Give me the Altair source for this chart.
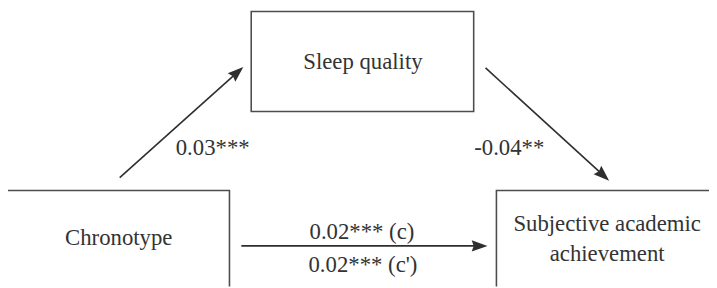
import altair as alt
import pandas as pd
import numpy as np

# Node boxes (diagram coordinates, pixels of the 717x288 canvas)
box_names = ["Sleep quality", "Chronotype", "Subjective academic achievement"]
box_x1 = [254, 7, 502]
box_x2 = [479, 232, 730]
box_y1 = [10, 191, 191]
box_y2 = [111, 300, 300]

# Node label lines
node_text = ["Sleep quality", "Chronotype", "Subjective academic", "achievement"]
node_tx = [367, 120, 614, 614]
node_ty = [61, 239, 225, 255]

# Paths (arrows): start -> tip
path_names = ["a", "b", "c"]
arr_x1 = [121, 491, 244]
arr_y1 = [178, 67, 247]
arr_x2 = [246, 616, 493]
arr_y2 = [66, 181, 247]

# Coefficient labels
coef_text = ["0.03***", "-0.04**", "0.02*** (c)", "0.02*** (c')"]
coef_tx = [215, 515, 366, 367]
coef_ty = [148, 148, 233, 266]

HEAD = 16  # arrowhead length in px

boxes = pd.DataFrame({"name": box_names, "x1": box_x1, "x2": box_x2, "y1": box_y1, "y2": box_y2})
labels = pd.DataFrame({"t": node_text + coef_text, "x": node_tx + coef_tx, "y": node_ty + coef_ty})

arr = pd.DataFrame({"p": path_names, "x1": arr_x1, "y1": arr_y1, "x2": arr_x2, "y2": arr_y2})
dx = arr["x2"] - arr["x1"]
dy = arr["y2"] - arr["y1"]
ln = np.hypot(dx, dy)
arr["lx2"] = (arr["x2"] - dx / ln * (HEAD - 4)).astype(float)
arr["ly2"] = (arr["y2"] - dy / ln * (HEAD - 4)).astype(float)
arr["angle"] = ((np.degrees(np.arctan2(dx, -dy)) + 360) % 360).astype(float)

xs = alt.Scale(domain=[8, 717], nice=False, zero=False)
ys = alt.Scale(domain=[8, 288], nice=False, zero=False, reverse=True)

LINE = "#2e2e2e"
BOX = "#4d4d4d"
TXT = "#333333"
FONT = "Liberation Serif, Tinos, Times New Roman, DejaVu Serif, serif"

rects = alt.Chart(boxes).mark_rect(fill="white", stroke=BOX, strokeWidth=1.6, clip=True).encode(
    x=alt.X("x1:Q", scale=xs, axis=None),
    x2="x2:Q",
    y=alt.Y("y1:Q", scale=ys, axis=None),
    y2="y2:Q",
)

lines = alt.Chart(arr).mark_rule(color=LINE, strokeWidth=1.6).encode(
    x=alt.X("x1:Q", scale=xs, axis=None),
    y=alt.Y("y1:Q", scale=ys, axis=None),
    x2="lx2:Q",
    y2="ly2:Q",
)

heads = alt.Chart(arr).mark_point(
    shape="M0,0 L0.72,2 L0,1.75 L-0.72,2 Z",
    size=HEAD * HEAD,
    filled=True,
    color=LINE,
    opacity=1,
    strokeWidth=0,
).encode(
    x=alt.X("x2:Q", scale=xs, axis=None),
    y=alt.Y("y2:Q", scale=ys, axis=None),
    angle=alt.Angle("angle:Q", scale=None),
)

texts = alt.Chart(labels).mark_text(
    font=FONT, fontSize=23, color=TXT, align="center", baseline="middle"
).encode(
    x=alt.X("x:Q", scale=xs, axis=None),
    y=alt.Y("y:Q", scale=ys, axis=None),
    text="t:N",
)

chart = alt.layer(rects, lines, heads, texts).properties(
    width=709, height=280, padding=0, autosize=alt.AutoSizeParams(type="none"),
    background="white",
).configure_view(stroke=None)

chart.save("out.html", embed_options={"renderer": "svg", "actions": False})
